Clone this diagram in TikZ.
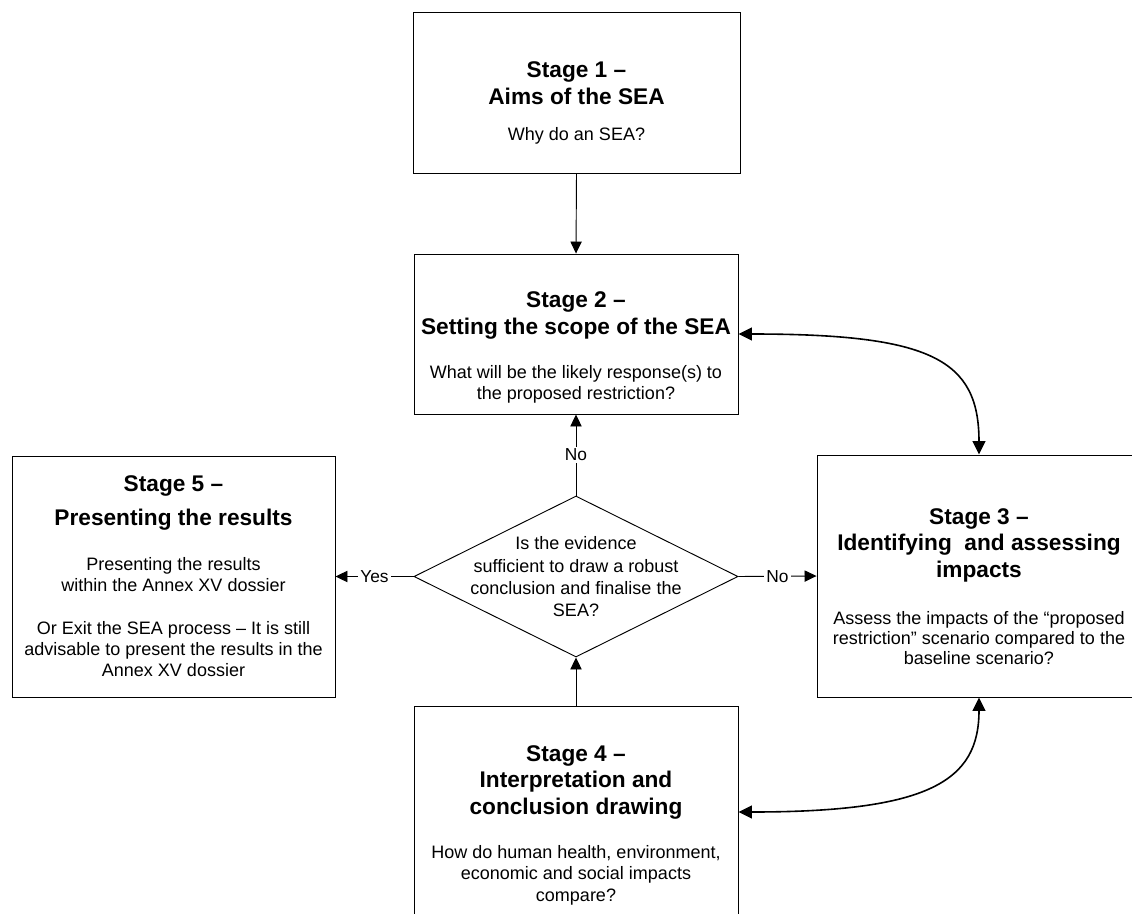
\documentclass[tikz,border=0pt]{standalone}
\usepackage{fontspec}
\setmainfont[Ligatures=NoCommon]{Liberation Sans}
\usetikzlibrary{arrows.meta,shapes.geometric}
\begin{document}
\begin{tikzpicture}[x=0.75pt,y=-0.75pt,
  stagebox/.style={draw=black,line width=0.7pt,rectangle,inner sep=0pt,minimum width=243pt},
  title/.style={anchor=north,inner sep=0pt,align=center,font=\fontsize{17}{20}\selectfont\bfseries},
  body/.style={anchor=north,inner sep=0pt,align=center,font=\fontsize{13.5}{15.75}\selectfont},
  conn/.style={line width=0.7pt,-{Triangle[length=9pt,width=8.5pt]}},
  twoway/.style={line width=1.2pt,{Triangle[length=10pt,width=9.5pt]}-{Triangle[length=10pt,width=9.5pt]}},
  lab/.style={fill=white,inner sep=1.5pt,font=\fontsize{13}{15}\selectfont}]
\useasboundingbox (0,0) rectangle (1132,914);
\fill[white] (0,0) rectangle (1132,914);
\clip (0,0) rectangle (1132,914);

% Stage 1
\node[stagebox,minimum width=245.25pt,minimum height=120.75pt] (s1) at (576.5,92.5) {};
\node[title] (s1t) at (576.5,61.5) {Stage 1 –\\Aims of the SEA};
\node[body] (s1b) at (576.5,127.5) {Why do an SEA?};

% Stage 2
\node[stagebox,minimum height=120pt] (s2) at (576,334) {};
\node[title] (s2t) at (576,291.5) {Stage 2 –\\Setting the scope of the SEA};
\node[body] (s2b) at (576,365) {What will be the likely response(s) to\\the proposed restriction?};

% Stage 3 (runs off the right edge)
\node[stagebox,minimum height=181.5pt] (s3) at (979,576) {};
\node[title] (s3t) at (979,508) {Stage 3 –\\Identifying\ \ and assessing\\impacts};
\node[body,font=\fontsize{13.5}{15}\selectfont] (s3b) at (979,611.5) {Assess the impacts of the “proposed\\restriction” scenario compared to the\\baseline scenario?};

% Stage 4 (runs off the bottom edge)
\node[stagebox,minimum height=159pt] (s4) at (576,812) {};
\node[title] (s4t) at (576,745) {Stage 4 –\\Interpretation and\\conclusion drawing};
\node[body,font=\fontsize{13.5}{16.25}\selectfont] (s4b) at (576,845) {How do human health, environment,\\economic and social impacts\\compare?};

% Stage 5
\node[stagebox,minimum width=242.25pt,minimum height=180.75pt] (s5) at (173.5,576.5) {};
\node[title] (s5t) at (173.5,475) {Stage 5 –\\[6pt]Presenting the results};
\node[body] (s5b) at (173.5,557.5) {Presenting the results\\within the Annex XV dossier\\[16.5pt]Or Exit the SEA process – It is still\\advisable to present the results in the\\Annex XV dossier};

% Decision
\node[draw,diamond,line width=0.7pt,minimum width=243pt,minimum height=120.75pt,inner sep=0pt] (q) at (576,576.5) {};
\node[body,font=\fontsize{13.5}{16.7}\selectfont] (qt) at (576,536.5) {Is the evidence\\sufficient to draw a robust\\conclusion and finalise the\\SEA?};

% Connectors
\draw[conn] (s1.south) -- (s2.north);
\draw[conn] (q.north) -- node[lab] (lno1) {No} (s2.south);
\draw[conn] (q.west) -- node[lab] (lyes) {Yes} (s5.east);
\draw[conn] (q.east) -- node[lab] (lno2) {No} (s3.west);
\draw[conn] (s4.north) -- (q.south);
\draw[twoway] (s2.east) .. controls +(193,0) and +(0,-95) .. (s3.north);
\draw[twoway] (s3.south) .. controls +(0,83) and +(192,0) .. (s4.east);
\end{tikzpicture}
\end{document}
